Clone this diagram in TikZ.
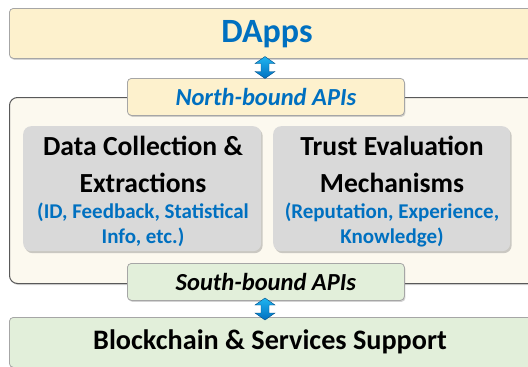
\documentclass[tikz,border=0pt]{standalone}
\usepackage{fontspec}
\setmainfont{Carlito}
\usetikzlibrary{shadows,calc}
\definecolor{ablue}{HTML}{0070C0}
\definecolor{ayellow}{HTML}{FDF1CD}
\definecolor{agreen}{HTML}{E2EFDA}
\definecolor{acont}{HTML}{FCF9EF}
\definecolor{agray}{HTML}{D9D9D9}
\definecolor{aborder}{HTML}{A6A6A6}
\definecolor{adark}{HTML}{595959}
\definecolor{alight}{HTML}{1FB4F0}
\tikzset{
  layer/.style={draw=aborder, line width=0.8pt, rounded corners=4pt, drop shadow={shadow xshift=1pt,shadow yshift=-1.5pt,opacity=0.35}},
  apibox/.style={layer, minimum width=277pt, minimum height=37pt, inner sep=0pt},
  module/.style={draw=none, fill=agray, rounded corners=8pt, minimum width=238pt, minimum height=125pt, drop shadow={shadow xshift=1.5pt,shadow yshift=-2pt,opacity=0.4}, align=center, inner sep=0pt},
  dblarrow/.style={draw=ablue!70!black, line width=0.4pt, top color=alight, bottom color=ablue}
}
\begin{document}
\begin{tikzpicture}[x=1pt,y=-1pt]
\clip (0,0) rectangle (528,367);
% container
\node[draw=adark, line width=1pt, fill=acont, rounded corners=8pt, minimum width=540pt, minimum height=186pt, anchor=north west, inner sep=0pt,
  drop shadow={shadow xshift=1pt,shadow yshift=-1.5pt,opacity=0.3}] (cont) at (9,97) {};
% top layer
\node[layer, fill=ayellow, minimum width=540pt, minimum height=50pt, anchor=north west, inner sep=0pt] (dapps) at (9,8) {};
\node[font=\bfseries\fontsize{34}{34}\selectfont, text=ablue] (dappst) at (267,34) {DApps};
% bottom layer
\node[layer, fill=agreen, minimum width=540pt, minimum height=50pt, anchor=north west, inner sep=0pt] (bc) at (9,317) {};
\node[font=\bfseries\fontsize{28.2}{28}\selectfont] (bct) at (270,342) {Blockchain \& Services Support};
% API boxes
\node[apibox, fill=ayellow, anchor=north west, font=\bfseries\itshape\fontsize{24.5}{24}\selectfont, text=ablue] (nb) at (127,78) {North-bound APIs};
\node[apibox, fill=agreen, anchor=north west, font=\bfseries\itshape\fontsize{24.5}{24}\selectfont] (sb) at (127,263) {South-bound APIs};
% modules
\node[module, anchor=north west] (dc) at (23,126) {};
\node[module, anchor=north west, minimum width=237pt] (te) at (273,126) {};
\node[font=\bfseries\fontsize{27.6}{37}\selectfont, align=center] (dct) at (143,164) {Data Collection \&\\Extractions};
\node[font=\bfseries\fontsize{21}{24.5}\selectfont, align=center, text=ablue] (dcs) at (143,225) {(ID, Feedback, Statistical\\Info, etc.)};
\node[font=\bfseries\fontsize{27.6}{37}\selectfont, align=center] (tet) at (392,164) {Trust Evaluation\\Mechanisms};
\node[font=\bfseries\fontsize{21}{24.5}\selectfont, align=center, text=ablue] (tes) at (392,225) {(Reputation, Experience,\\Knowledge)};
% arrows
\coordinate (a1) at (265,67.5);
\coordinate (a2) at (265,309);
\foreach \c in {a1,a2}{
  \path[dblarrow] ($(\c)+(0,-11)$) -- ++(10,7) -- ++(-6,0) -- ++(0,8) -- ++(6,0) -- ++(-10,7) -- ++(-10,-7) -- ++(6,0) -- ++(0,-8) -- ++(-6,0) -- cycle;
}
\end{tikzpicture}
\end{document}
